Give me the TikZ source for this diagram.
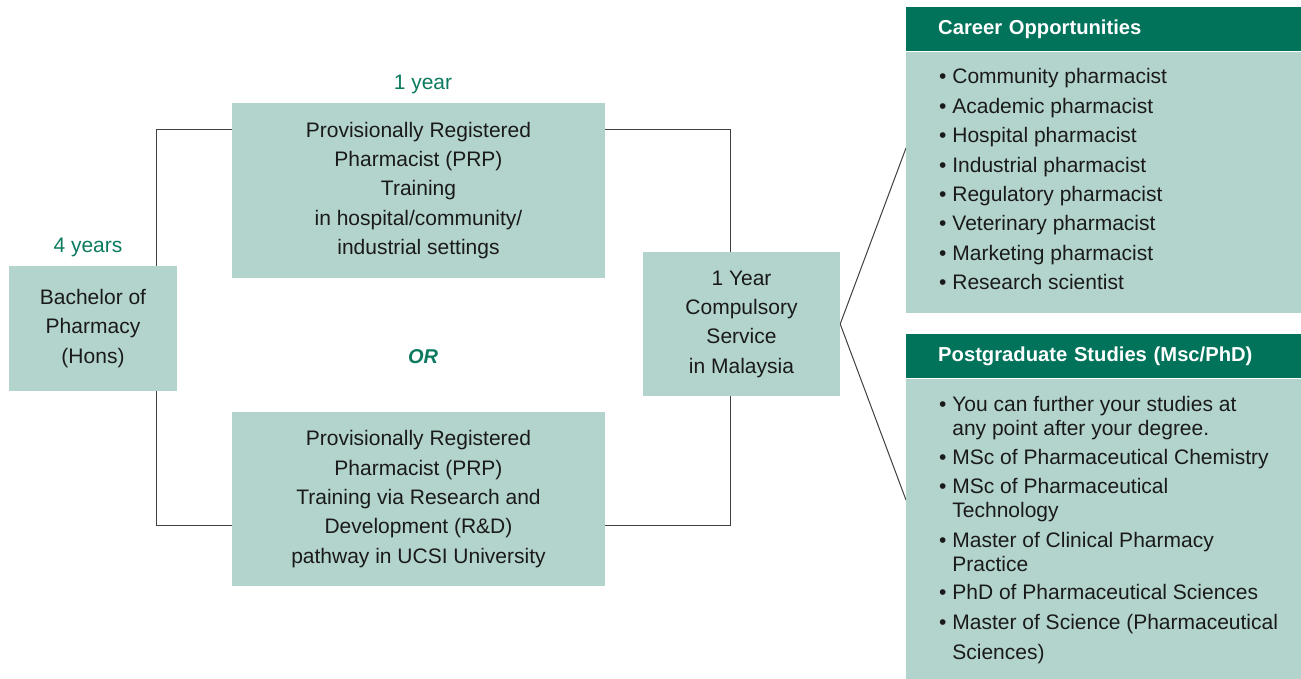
\documentclass[tikz,border=0pt]{standalone}
\usepackage{fontspec}
\setmainfont{Liberation Sans}
\usetikzlibrary{positioning, backgrounds}
\definecolor{paleteal}{HTML}{B3D4CD}
\definecolor{deepgreen}{HTML}{00735A}
\definecolor{labelgreen}{HTML}{0B7A5F}
\definecolor{inkgray}{HTML}{1A1A1A}

\begin{document}
\begin{tikzpicture}[x=1pt, y=-1pt,
    stagebox/.style={rectangle, fill=paleteal, text=inkgray, align=center, inner sep=0pt, font=\fontsize{21}{29.3}\selectfont},
    headbox/.style={rectangle, fill=deepgreen, text=white, anchor=north west, minimum width=395, minimum height=44, text width=331, inner xsep=32, inner ysep=0pt, align=left, font=\bfseries\fontsize{20.2}{24}\selectfont},
    bodybox/.style={rectangle, fill=paleteal, anchor=north west, minimum width=395, inner sep=0pt},
    listtext/.style={anchor=north west, align=left, inner sep=0pt, text=inkgray},
    yearlabel/.style={text=labelgreen, inner sep=0pt, font=\fontsize{21}{24}\selectfont},
    link/.style={draw=black!75, line width=1pt}
]
\useasboundingbox (0,0) rectangle (1301,678);

% pathway boxes
\node[stagebox, minimum width=168, minimum height=125] (bach) at (93,328.5) {Bachelor of\\Pharmacy\\(Hons)};
\node[stagebox, minimum width=373, minimum height=175] (prp1) at (418.5,190.5) {Provisionally Registered\\Pharmacist (PRP)\\Training\\in hospital/community/\\industrial settings};
\node[stagebox, minimum width=373, minimum height=174] (prp2) at (418.5,499) {Provisionally Registered\\Pharmacist (PRP)\\Training via Research and\\Development (R\&D)\\pathway in UCSI University};
\node[stagebox, minimum width=197, minimum height=144] (serv) at (741.5,324) {1 Year\\Compulsory\\Service\\in Malaysia};

\node[yearlabel] (yr4) at (88,247) {4 years};
\node[yearlabel] (yr1) at (423,84) {1 year};
\node[yearlabel, font=\bfseries\itshape\fontsize{20}{24}\selectfont] (orlabel) at (423,357) {OR};

% outcome panels
\node[headbox] (chead) at (906,7) {Career Opportunities};
\node[bodybox, minimum height=261] (career) at (chead.south west) {};
\node[listtext, font=\fontsize{21}{29.4}\selectfont] (clist) at (939,68.5) {%
\textbullet\ Community pharmacist\\
\textbullet\ Academic pharmacist\\
\textbullet\ Hospital pharmacist\\
\textbullet\ Industrial pharmacist\\
\textbullet\ Regulatory pharmacist\\
\textbullet\ Veterinary pharmacist\\
\textbullet\ Marketing pharmacist\\
\textbullet\ Research scientist};

\node[headbox] (phead) at (906,334) {Postgraduate Studies (Msc/PhD)};
\node[bodybox, minimum height=301] (postgrad) at (phead.south west) {};
\node[listtext, font=\fontsize{21}{24}\selectfont] (plist) at (939,396.5) {%
\textbullet\ You can further your studies at\\
\hphantom{\textbullet\ }any point after your degree.\\[5pt]
\textbullet\ MSc of Pharmaceutical Chemistry\\[5pt]
\textbullet\ MSc of Pharmaceutical\\
\hphantom{\textbullet\ }Technology\\[6pt]
\textbullet\ Master of Clinical Pharmacy\\
\hphantom{\textbullet\ }Practice\\[4pt]
\textbullet\ PhD of Pharmaceutical Sciences\\[6pt]
\textbullet\ Master of Science (Pharmaceutical\\[6pt]
\hphantom{\textbullet\ }Sciences)};

% connectors
\coordinate (lt) at (156,129);
\coordinate (lb) at (156,525);
\coordinate (rt) at (730,129);
\coordinate (rb) at (730,525);
\coordinate (ct) at (906,148);
\coordinate (cb) at (906,500);
\begin{scope}[on background layer]
\draw[link] (prp1.west |- lt) -- (lt) -- (lb) -- (prp2.west |- lb);
\draw[link] (prp1.east |- rt) -- (rt) -- (rb) -- (prp2.east |- rb);
\draw[link] (serv.east) -- (ct);
\draw[link] (serv.east) -- (cb);
\end{scope}
\end{tikzpicture}
\end{document}
